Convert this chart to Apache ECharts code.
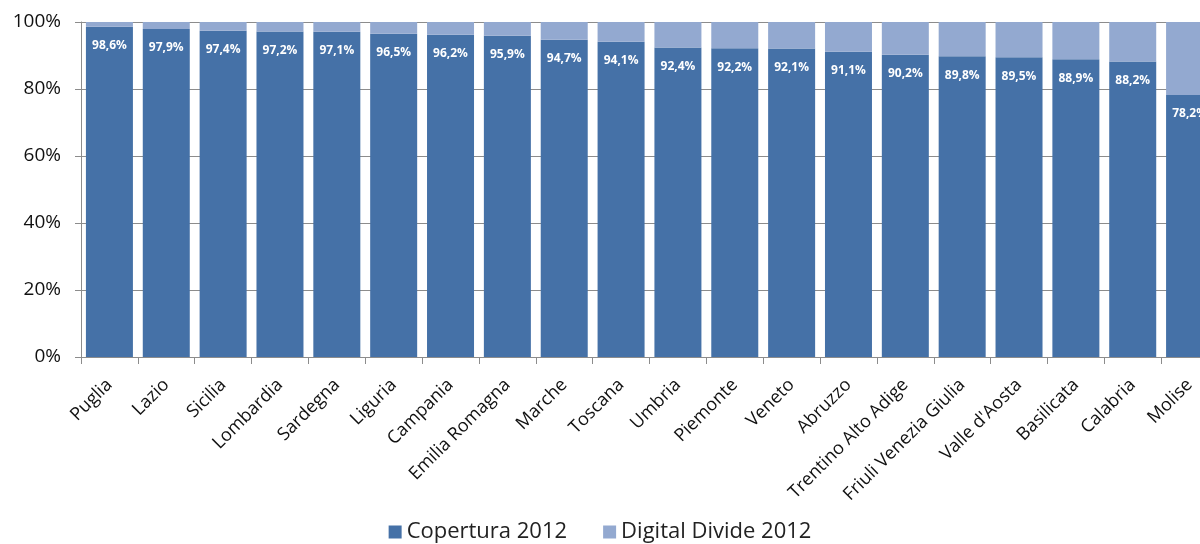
<!DOCTYPE html>
<html>
<head>
<meta charset="utf-8">
<script src="https://cdn.jsdelivr.net/npm/echarts@6/dist/echarts.min.js"></script>
<style>html,body{margin:0;padding:0;background:#fff}#c{width:1200px;height:544px}</style>
</head>
<body>
<div id="c"></div>
<script>
const categories = ["Puglia","Lazio","Sicilia","Lombardia","Sardegna","Liguria","Campania","Emilia Romagna","Marche","Toscana","Umbria","Piemonte","Veneto","Abruzzo","Trentino Alto Adige","Friuli Venezia Giulia","Valle d'Aosta","Basilicata","Calabria","Molise"];
const copertura2012 = [98.6,97.9,97.4,97.2,97.1,96.5,96.2,95.9,94.7,94.1,92.4,92.2,92.1,91.1,90.2,89.8,89.5,88.9,88.2,78.2];
const digitalDivide2012 = [1.4,2.1,2.6,2.8,2.9,3.5,3.8,4.1,5.3,5.9,7.6,7.8,7.9,8.9,9.8,10.2,10.5,11.1,11.8,21.8];
const yTicks = [0,20,40,60,80,100];

const chart = echarts.init(document.getElementById('c'));
const fontFam = '"Open Sans", "Liberation Sans", sans-serif';
chart.setOption({
  animation: false,
  textStyle: {fontFamily: fontFam},
  grid: {left: 81, top: 22, width: 1137, height: 335, containLabel: false, outerBoundsMode: 'none'},
  legend: {
    top: 516, left: 'center',
    itemWidth: 13, itemHeight: 13, itemGap: 36,
    icon: 'rect',
    textStyle: {fontSize: 22, color: '#222', fontFamily: fontFam},
    data: ['Copertura 2012','Digital Divide 2012']
  },
  xAxis: {
    type: 'category',
    data: categories,
    axisLine: {show: true, lineStyle: {color: '#8c8c8c', width: 1}},
    axisTick: {show: true, alignWithLabel: false, length: 7, lineStyle: {color: '#8c8c8c'}},
    axisLabel: {rotate: 45, interval: 0, fontSize: 18, color: '#111', margin: 25, fontFamily: fontFam}
  },
  yAxis: {
    type: 'value', min: 0, max: 100, interval: 20,
    axisLine: {show: true, lineStyle: {color: '#8c8c8c', width: 1}},
    axisTick: {show: true, length: 6, inside: false, lineStyle: {color: '#8c8c8c'}},
    splitLine: {show: true, lineStyle: {color: '#8c8c8c', width: 1}},
    axisLabel: {formatter: v => yTicks.includes(v) ? v + '%' : '', fontSize: 19, color: '#111', margin: 20, fontFamily: fontFam}
  },
  series: [
    {
      name: 'Copertura 2012', type: 'bar', stack: 'tot', barWidth: 47,
      itemStyle: {color: '#4571a7'},
      data: copertura2012,
      label: {
        show: true, position: 'insideTop', distance: 13,
        formatter: p => p.value.toFixed(1).replace('.', ',') + '%',
        color: '#fff', fontSize: 12, fontWeight: 'bold', fontFamily: fontFam
      }
    },
    {
      name: 'Digital Divide 2012', type: 'bar', stack: 'tot', barWidth: 47,
      itemStyle: {color: '#93a9d0'},
      data: digitalDivide2012
    }
  ]
});
</script>
</body>
</html>
